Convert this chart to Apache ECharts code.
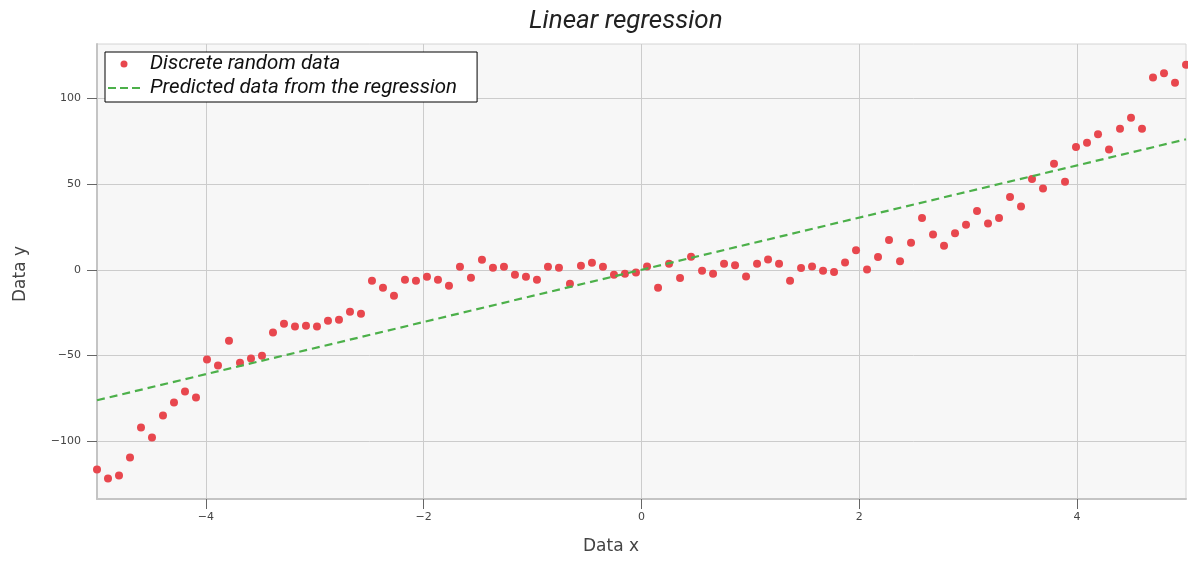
<!DOCTYPE html>
<html>
<head>
<meta charset="utf-8">
<script src="https://cdn.jsdelivr.net/npm/echarts@6/dist/echarts.min.js"></script>
<style>
html,body{margin:0;padding:0;background:#fff;}
#chart{width:1188px;height:561px;}
</style>
</head>
<body>
<div id="chart"></div>
<script>
// x positions: 100 evenly spaced samples from -5 to 5 (listed)
const xValues = [
-5.000,-4.899,-4.798,-4.697,-4.596,-4.495,-4.394,-4.293,-4.192,-4.091,
-3.990,-3.889,-3.788,-3.687,-3.586,-3.485,-3.384,-3.283,-3.182,-3.081,
-2.980,-2.879,-2.778,-2.677,-2.576,-2.475,-2.374,-2.273,-2.172,-2.071,
-1.970,-1.869,-1.768,-1.667,-1.566,-1.465,-1.364,-1.263,-1.162,-1.061,
-0.960,-0.859,-0.758,-0.657,-0.556,-0.455,-0.354,-0.253,-0.152,-0.051,
0.051,0.152,0.253,0.354,0.455,0.556,0.657,0.758,0.859,0.960,
1.061,1.162,1.263,1.364,1.465,1.566,1.667,1.768,1.869,1.970,
2.071,2.172,2.273,2.374,2.475,2.576,2.677,2.778,2.879,2.980,
3.081,3.182,3.283,3.384,3.485,3.586,3.687,3.788,3.889,3.990,
4.091,4.192,4.293,4.394,4.495,4.596,4.697,4.798,4.899,5.000
];
const yValues = [
-116.3,-121.5,-119.8,-109.3,-91.9,-97.7,-84.9,-77.3,-70.9,-74.4,
-52.3,-55.8,-41.3,-54.1,-51.7,-50.0,-36.6,-31.4,-33.1,-32.6,
-33.1,-29.7,-29.1,-24.4,-25.6,-6.4,-10.5,-15.1,-5.8,-6.4,
-4.1,-5.8,-9.3,1.7,-4.7,5.8,1.2,1.7,-2.9,-4.1,
-5.8,1.7,1.2,-8.1,2.3,4.1,1.7,-2.9,-2.3,-1.6,
1.9,-10.5,3.5,-4.8,7.6,-0.6,-2.3,3.5,2.7,-3.9,
3.5,6.0,3.5,-6.4,1.0,1.9,-0.6,-1.3,4.2,11.4,
0.2,7.4,17.3,5.0,15.7,30.2,20.5,14.0,21.3,26.2,
34.3,26.9,30.2,42.4,36.8,52.9,47.3,61.8,51.2,71.5,
74.0,78.9,70.0,82.2,88.6,82.2,112.0,114.5,108.9,119.4
];
const predX = [-5, 5];
const predY = [-76.0, 76.0];
const xTicks = [-4, -2, 0, 2, 4];
const yTicks = [-100, -50, 0, 50, 100];
const seriesNames = ['Discrete random data', 'Predicted data from the regression'];
const titleText = 'Linear regression';
const xName = 'Data x';
const yName = 'Data y';

const fmt = v => (v < 0 ? '\u2212' + Math.abs(v) : String(v));
const chart = echarts.init(document.getElementById('chart'));
const tickFont = {fontFamily: 'DejaVu Sans', fontSize: 11, color: '#444'};
const dashIcon = 'path://M0,0h8v2h-8z M12,0h8v2h-8z M24,0h8v2h-8z';
chart.setOption({
  animation: false,
  backgroundColor: '#ffffff',
  title: {
    text: titleText, left: 524, top: 3,
    textStyle: {fontFamily: 'Roboto', fontStyle: 'italic', fontWeight: 'normal', fontSize: 26, color: '#222'}
  },
  legend: {
    left: 105, top: 52, orient: 'vertical',
    backgroundColor: '#ffffff', borderColor: '#000', borderWidth: 1,
    padding: [2, 20, 4, 3], itemGap: 4, itemWidth: 32, itemHeight: 7,
    symbolKeepAspect: true,
    textStyle: {fontFamily: 'Roboto', fontStyle: 'italic', fontSize: 20.5, color: '#111', padding: [0, 0, 0, 5]},
    data: [
      {name: seriesNames[0], icon: 'circle', itemStyle: {color: '#e8474e'}},
      {name: seriesNames[1], icon: dashIcon, itemStyle: {color: '#4cb04a'}}
    ]
  },
  grid: {
    left: 97, right: 2, top: 44, bottom: 62, show: true,
    backgroundColor: '#f7f7f7', borderColor: '#d4d4d4', borderWidth: 1
  },
  xAxis: {
    type: 'value', min: -5, max: 5,
    axisLine: {show: true, onZero: false, lineStyle: {color: '#c4c4c4', width: 2}},
    axisTick: {show: true, length: 10, customValues: xTicks, lineStyle: {color: '#666'}},
    axisLabel: Object.assign({customValues: xTicks, formatter: fmt, margin: 13}, tickFont),
    splitLine: {show: true, lineStyle: {color: '#cccccc', width: 1}}
  },
  yAxis: {
    type: 'value', min: -133.5, max: 131.5,
    axisLine: {show: true, onZero: false, lineStyle: {color: '#c4c4c4', width: 2}},
    axisTick: {show: true, length: 10, customValues: yTicks, lineStyle: {color: '#666'}},
    axisLabel: Object.assign({customValues: yTicks, formatter: fmt, margin: 16}, tickFont),
    splitLine: {show: true, lineStyle: {color: '#cccccc', width: 1}}
  },
  graphic: [
    {type: 'text', left: 583, top: 538, style: {text: xName, fontFamily: 'DejaVu Sans', fontSize: 17, fill: '#444'}},
    {type: 'text', x: 12, y: 302, rotation: Math.PI / 2,
     style: {text: yName, fontFamily: 'DejaVu Sans', fontSize: 17, fill: '#444'}}
  ],
  series: [
    {
      name: seriesNames[0], type: 'scatter', symbolSize: 8,
      itemStyle: {color: '#e8474e', opacity: 1},
      data: xValues.map((x, i) => [x, yValues[i]]), z: 3
    },
    {
      name: seriesNames[1], type: 'line', showSymbol: false, symbol: 'none',
      lineStyle: {color: '#4cb04a', width: 2.2, type: [8, 5]},
      itemStyle: {color: '#4cb04a'},
      data: predX.map((x, i) => [x, predY[i]]), z: 4
    }
  ]
});
</script>
</body>
</html>
